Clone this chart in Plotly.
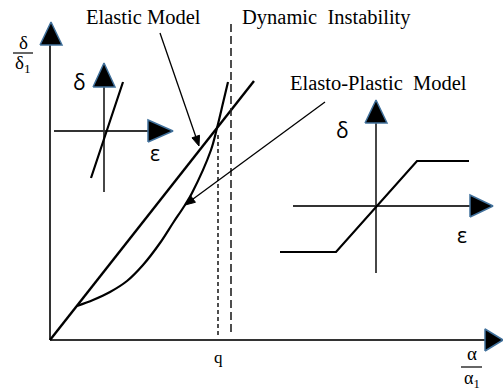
import math
import plotly.graph_objects as go

W, H = 503, 392

# ---- main diagram (normalised deflection vs normalised load) ----
elastic_x = [0, 204]
elastic_y = [0, 259]
plastic_x = [27, 43, 60, 77, 93, 110, 123, 135, 142, 161, 167, 173, 178]
plastic_y = [34, 40, 48, 59, 75, 97, 117, 135, 147, 190, 212, 237, 258]
q_value = 168            # load ratio at the intersection
q_top = 208
instability_x = 181      # dynamic instability limit
instability_top = 318

# ---- inset: linear elastic delta-epsilon law ----
lin_eps = [-13, 19]
lin_delta = [-47, 49]

# ---- inset: elastic-perfectly-plastic delta-epsilon law ----
ep_eps = [-96, -40, 41, 93]
ep_delta = [-46, -46, 45, 45]

# ---- text ----
label_elastic = "Elastic Model"
label_dynamic = "Dynamic  Instability"
label_plastic = "Elasto-Plastic  Model"

AXIS_COL = "#333333"
HEAD_FILL = "black"
HEAD_EDGE = "#41719C"
SERIF = "Liberation Serif, Times New Roman, DejaVu Serif, serif"
SANS = "Open Sans, Liberation Sans, sans-serif"

fig = go.Figure()


def line(x, y, xa="x", ya="y", width=2.0, color="black", dash=None, shape="linear"):
    fig.add_trace(go.Scatter(
        x=x, y=y, mode="lines", xaxis=xa, yaxis=ya,
        line=dict(color=color, width=width, dash=dash, shape=shape, smoothing=0.9),
        hoverinfo="skip", showlegend=False, cliponaxis=False))


def polygon(xs, ys, fill, edge, width, xa="x", ya="y"):
    fig.add_trace(go.Scatter(
        x=xs + xs[:1], y=ys + ys[:1], mode="lines", fill="toself", fillcolor=fill,
        xaxis=xa, yaxis=ya, line=dict(color=edge, width=width),
        hoverinfo="skip", showlegend=False, cliponaxis=False))


def head(tip, base, half, vertical, xa="x", ya="y"):
    if vertical:
        xs = [tip[0] - half, tip[0], tip[0] + half]
        ys = [base, tip[1], base]
    else:
        xs = [base, tip[0], base]
        ys = [tip[1] - half, tip[1], tip[1] + half]
    polygon(xs, ys, HEAD_FILL, HEAD_EDGE, 1.5, xa, ya)


def cross_axes(xa, ya, xmin, xbase, xtip, ymin, ybase, ytip, half, width=1.8):
    line([xmin, xbase], [0, 0], xa, ya, width=width, color=AXIS_COL)
    line([0, 0], [ymin, ybase], xa, ya, width=width, color=AXIS_COL)
    head((xtip, 0), xbase, half, False, xa, ya)
    head((0, ytip), ybase, half, True, xa, ya)


def pointer(head_xy, tail_xy, length=10, half=4):
    # leader line with a small filled arrowhead (main axes are 1 unit per px)
    dx, dy = head_xy[0] - tail_xy[0], head_xy[1] - tail_xy[1]
    n = math.hypot(dx, dy)
    ux, uy = dx / n, dy / n
    bx, by = head_xy[0] - ux * length, head_xy[1] - uy * length
    line([tail_xy[0], bx], [tail_xy[1], by], width=1.3)
    polygon([head_xy[0], bx - uy * half, bx + uy * half],
            [head_xy[1], by + ux * half, by - ux * half], "black", "black", 1)


# main axes
line([0, 435], [0, 0], width=2, color=AXIS_COL)
line([0, 0], [0, 295], width=2, color=AXIS_COL)
head((453, 0), 435, 11, False)
head((1, 318), 295, 11, True)

# curves
line(elastic_x, elastic_y, width=2.4)
line(plastic_x, plastic_y, width=2.2, shape="spline")
line([q_value, q_value], [5, q_top], width=1.6, color="#222222", dash="4px,3px")
line([instability_x, instability_x], [8, instability_top], width=1.6,
     color="#222222", dash="8px,4px")

pointer((149, 194), (110, 307))
pointer((135, 135), (275, 238))

# inset 1
cross_axes("x2", "y2", -50, 44, 69, -61, 44, 68, 11)
line(lin_eps, lin_delta, "x2", "y2", width=2.2)

# inset 2
cross_axes("x3", "y3", -83, 94, 117, -67, 83, 106, 11)
line(ep_eps, ep_delta, "x3", "y3", width=2.2)


def dom(center, half, total, flip=False):
    c = total - center if flip else center
    return [(c - half) / total, (c + half) / total]


hidden = dict(visible=False, fixedrange=True)
fig.update_layout(
    width=W, height=H,
    margin=dict(l=0, r=0, t=0, b=0),
    paper_bgcolor="white", plot_bgcolor="rgba(0,0,0,0)",
    xaxis=dict(range=[-50, 453], domain=[0, 1], **hidden),
    yaxis=dict(range=[-52, 340], domain=[0, 1], **hidden),
    xaxis2=dict(range=[-75, 75], domain=dom(104, 75, W), anchor="y2", **hidden),
    yaxis2=dict(range=[-75, 75], domain=dom(131, 75, H, True), anchor="x2", **hidden),
    xaxis3=dict(range=[-125, 125], domain=dom(376, 125, W), anchor="y3", **hidden),
    yaxis3=dict(range=[-125, 125], domain=dom(206, 125, H, True), anchor="x3", **hidden),
)

ann = []


def text(x, y, t, size, family=SERIF, xref="x", yref="y"):
    ann.append(dict(x=x, y=y, xref=xref, yref=yref, text=t, showarrow=False,
                    font=dict(family=family, size=size, color="black"),
                    xanchor="center", yanchor="middle"))


text(93, 323, label_elastic, 20.5)
text(276, 323, label_dynamic, 20.5)
text(328, 257, label_plastic, 20.5)
text(q_value, -17, "q", 17)

# axis titles as fractions
text(-27, 298, "δ", 19)
text(-27, 276, "δ<sub>1</sub>", 19)
text(422, -13, "α", 19)
text(422, -39, "α<sub>1</sub>", 18)

# inset labels
text(-25, 49, "δ", 21, SANS, "x2", "y2")
text(51, -22, "ε", 21, SANS, "x2", "y2")
text(-34, 76, "δ", 21, SANS, "x3", "y3")
text(86, -29, "ε", 21, SANS, "x3", "y3")

fig.update_layout(annotations=ann, shapes=[
    dict(type="line", xref="x", yref="y", x0=-37, x1=-17, y0=287, y1=287,
         line=dict(color="black", width=1.2)),
    dict(type="line", xref="x", yref="y", x0=411, x1=432, y0=-27, y1=-27,
         line=dict(color="black", width=1.2)),
])

fig.write_html("out.html")
